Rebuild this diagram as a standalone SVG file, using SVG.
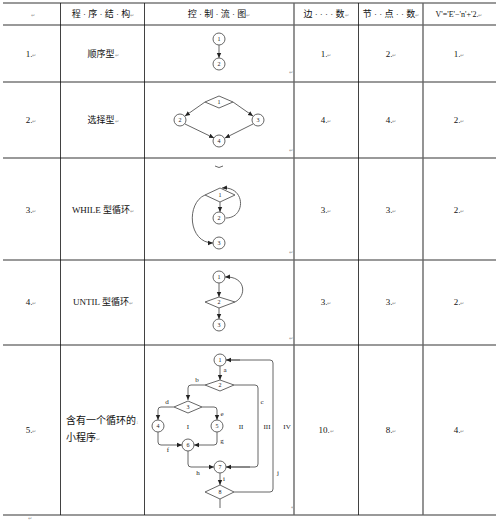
<svg xmlns="http://www.w3.org/2000/svg" width="496" height="520" viewBox="0 0 496 520">
<style>
.t{font-family:"Liberation Serif","Noto Sans CJK SC",serif;font-size:9px;fill:#111;text-anchor:middle}
.tl{font-family:"Liberation Serif","Noto Sans CJK SC",serif;font-size:10px;fill:#111}
.m{font-family:"Liberation Sans",sans-serif;font-size:5px;fill:#999}
.lb{font-family:"Liberation Serif",serif;font-size:7px;fill:#222;text-anchor:middle}
.n{font-family:"Liberation Serif",serif;font-size:6px;fill:#222;text-anchor:middle;dominant-baseline:central}
.hg{stroke:#777;stroke-width:1.5;fill:none}
.vb{stroke:#111;stroke-width:0.8;fill:none}
.vg{stroke:#666;stroke-width:1.4;fill:none}
.nd{fill:#fff;stroke:#555;stroke-width:0.9}
.e{stroke:#555;stroke-width:0.9;fill:none}
.ea{stroke:#555;stroke-width:0.9;fill:none;marker-end:url(#ar)}
</style>
<defs>
<marker id="ar" markerWidth="6" markerHeight="6" refX="5" refY="3" orient="auto" markerUnits="userSpaceOnUse">
<path d="M0,0.8 L5,3 L0,5.2 Z" fill="#222"/>
</marker>
</defs>
<rect width="496" height="520" fill="#fff"/>
<g id="table">
<line class="hg" x1="3" y1="3" x2="496" y2="3"/>
<line class="hg" x1="3" y1="25" x2="496" y2="25"/>
<line class="hg" x1="3" y1="82" x2="496" y2="82"/>
<line class="hg" x1="3" y1="158" x2="496" y2="158"/>
<line class="hg" x1="3" y1="260" x2="496" y2="260"/>
<line class="hg" x1="3" y1="345" x2="496" y2="345"/>
<line class="hg" x1="3" y1="515" x2="496" y2="515"/>
<line class="vb" x1="60.5" y1="3" x2="60.5" y2="515"/>
<line class="vb" x1="144.5" y1="3" x2="144.5" y2="515"/>
<line class="vg" x1="294" y1="3" x2="294" y2="515"/>
<line class="vb" x1="358.5" y1="3" x2="358.5" y2="515"/>
<line class="vg" x1="423" y1="3" x2="423" y2="515"/>
</g>
<g id="header">
<text class="m" x="31" y="17">↵</text>
<text class="t" x="103" y="17">程 · 序 · 结 · 构<tspan class="m">↵</tspan></text>
<text class="t" x="219" y="17">控 · 制 · 流 · 图<tspan class="m">↵</tspan></text>
<text class="t" x="326" y="17">边 · · · · 数<tspan class="m">↵</tspan></text>
<text class="t" x="391" y="17">节 · · 点 · · 数<tspan class="m">↵</tspan></text>
<text class="t" x="459" y="17" style="font-size:8px">V'='E'−'n'+'2.<tspan class="m">↵</tspan></text>
</g>
<g id="row-labels">
<text class="t" x="31" y="57">1.<tspan class="m">↵</tspan></text>
<text class="t" x="103" y="57">顺序型<tspan class="m">↵</tspan></text>
<text class="t" x="326" y="57">1.<tspan class="m">↵</tspan></text>
<text class="t" x="391" y="57">2.<tspan class="m">↵</tspan></text>
<text class="t" x="459" y="57">1.<tspan class="m">↵</tspan></text>
<text class="t" x="31" y="123">2.<tspan class="m">↵</tspan></text>
<text class="t" x="103" y="123">选择型<tspan class="m">↵</tspan></text>
<text class="t" x="326" y="123">4.<tspan class="m">↵</tspan></text>
<text class="t" x="391" y="123">4.<tspan class="m">↵</tspan></text>
<text class="t" x="459" y="123">2.<tspan class="m">↵</tspan></text>
<text class="t" x="31" y="213">3.<tspan class="m">↵</tspan></text>
<text class="t" x="103" y="213">WHILE 型循环<tspan class="m">↵</tspan></text>
<text class="t" x="326" y="213">3.<tspan class="m">↵</tspan></text>
<text class="t" x="391" y="213">3.<tspan class="m">↵</tspan></text>
<text class="t" x="459" y="213">2.<tspan class="m">↵</tspan></text>
<text class="t" x="31" y="305">4.<tspan class="m">↵</tspan></text>
<text class="t" x="103" y="305">UNTIL 型循环<tspan class="m">↵</tspan></text>
<text class="t" x="326" y="305">3.<tspan class="m">↵</tspan></text>
<text class="t" x="391" y="305">3.<tspan class="m">↵</tspan></text>
<text class="t" x="459" y="305">2.<tspan class="m">↵</tspan></text>
<text class="t" x="31" y="433">5.<tspan class="m">↵</tspan></text>
<text class="tl" x="66" y="424">含有一个循环的<tspan class="m">↓</tspan></text>
<text class="tl" x="66" y="441">小程序<tspan class="m">↵</tspan></text>
<text class="t" x="326" y="433">10.<tspan class="m">↵</tspan></text>
<text class="t" x="391" y="433">8.<tspan class="m">↵</tspan></text>
<text class="t" x="459" y="433">4.<tspan class="m">↵</tspan></text>
<text class="m" x="289" y="74">↵</text>
<text class="m" x="289" y="152">↵</text>
<text class="m" x="289" y="254">↵</text>
<text class="m" x="289" y="340">↵</text>
<text class="m" x="291" y="509">↵</text>
<text class="m" x="28" y="520">↵</text>
</g>
<g id="connectors">
<line class="ea" x1="219" y1="45" x2="219" y2="58"/>
<line class="ea" x1="205" y1="102" x2="185" y2="116"/>
<line class="ea" x1="233" y1="102" x2="253" y2="116"/>
<line class="ea" x1="185" y1="124" x2="214" y2="138"/>
<line class="ea" x1="253" y1="124" x2="225" y2="138"/>
<path class="e" d="M215,166 Q219,169 223,166"/>
<line class="ea" x1="220" y1="202" x2="220" y2="212"/>
<path class="ea" d="M226,218 C246,218 246,186 222,188"/>
<path class="ea" d="M205,195 C186,203 188,243 213,243"/>
<line class="ea" x1="219" y1="283" x2="219" y2="297"/>
<line class="ea" x1="219" y1="308" x2="219" y2="319"/>
<path class="ea" d="M235,302 C247,296 246,276 225,277"/>
<line class="ea" x1="220" y1="366" x2="220" y2="380"/>
<path class="ea" d="M205,385 L191,385 Q188,385 188,388 L188,400"/>
<path class="e" d="M234,385 L255,385 Q258,385 258,388 L258,464 Q258,467 255,467 L226,467"/>
<path class="ea" d="M250,467 L226,467"/>
<path class="ea" d="M174,407 L161,407 Q158,407 158,410 L158,420"/>
<path class="ea" d="M202,407 L214,407 Q217,407 217,410 L217,420"/>
<path class="ea" d="M158,432 L158,442 Q158,445 161,445 L182,445"/>
<path class="ea" d="M217,432 L217,442 Q217,445 214,445 L194,445"/>
<path class="ea" d="M188,451 L188,464 Q188,467 191,467 L214,467"/>
<line class="ea" x1="220" y1="473" x2="220" y2="485"/>
<path class="e" d="M234,492 L270,492 Q273,492 273,489 L273,363 Q273,360 270,360 L226,360"/>
<path class="ea" d="M240,360 L226,360"/>
<line class="e" x1="220" y1="499" x2="220" y2="508"/>
</g>
<g id="nodes">
<g id="r1n1"><circle class="nd" cx="219" cy="39" r="6"/><text class="n" x="219" y="39">1</text></g>
<g id="r1n2"><circle class="nd" cx="219" cy="64" r="6"/><text class="n" x="219" y="64">2</text></g>
<g id="r2n1"><polygon class="nd" points="205,102 219,96 233,102 219,108"/><text class="n" x="219" y="102">1</text></g>
<g id="r2n2"><circle class="nd" cx="180" cy="120" r="6"/><text class="n" x="180" y="120">2</text></g>
<g id="r2n3"><circle class="nd" cx="258" cy="120" r="6"/><text class="n" x="258" y="120">3</text></g>
<g id="r2n4"><circle class="nd" cx="219" cy="141" r="6"/><text class="n" x="219" y="141">4</text></g>
<g id="r3n1"><polygon class="nd" points="205,195 220,188 235,195 220,202"/><text class="n" x="220" y="195">1</text></g>
<g id="r3n2"><circle class="nd" cx="219" cy="218" r="6"/><text class="n" x="219" y="218">2</text></g>
<g id="r3n3"><circle class="nd" cx="219" cy="243" r="6"/><text class="n" x="219" y="243">3</text></g>
<g id="r4n1"><circle class="nd" cx="219" cy="277" r="6"/><text class="n" x="219" y="277">1</text></g>
<g id="r4n2"><polygon class="nd" points="205,302 219,297 235,302 219,308"/><text class="n" x="219" y="302">2</text></g>
<g id="r4n3"><circle class="nd" cx="219" cy="325" r="6"/><text class="n" x="219" y="325">3</text></g>
<g id="r5n1"><circle class="nd" cx="220" cy="360" r="6"/><text class="n" x="220" y="360">1</text></g>
<g id="r5n2"><polygon class="nd" points="205,385 220,380 234,385 220,391"/><text class="n" x="220" y="385">2</text></g>
<g id="r5n3"><polygon class="nd" points="174,407 188,401 202,407 188,413"/><text class="n" x="188" y="407">3</text></g>
<g id="r5n4"><circle class="nd" cx="158" cy="426" r="6"/><text class="n" x="158" y="426">4</text></g>
<g id="r5n5"><circle class="nd" cx="217" cy="426" r="6"/><text class="n" x="217" y="426">5</text></g>
<g id="r5n6"><circle class="nd" cx="188" cy="445" r="6"/><text class="n" x="188" y="445">6</text></g>
<g id="r5n7"><circle class="nd" cx="220" cy="467" r="6"/><text class="n" x="220" y="467">7</text></g>
<g id="r5n8"><polygon class="nd" points="205,492 220,485 234,492 220,499"/><text class="n" x="220" y="492">8</text></g>
</g>
<g id="edge-labels">
<text class="lb" x="225" y="372">a</text>
<text class="lb" x="197" y="382">b</text>
<text class="lb" x="262" y="404">c</text>
<text class="lb" x="167" y="404">d</text>
<text class="lb" x="222" y="416">e</text>
<text class="lb" x="168" y="452">f</text>
<text class="lb" x="222" y="443">g</text>
<text class="lb" x="198" y="475">h</text>
<text class="lb" x="224" y="481">i</text>
<text class="lb" x="278" y="475">j</text>
<text class="lb" x="188" y="429">I</text>
<text class="lb" x="241" y="429">II</text>
<text class="lb" x="267" y="429">III</text>
<text class="lb" x="287" y="429">IV</text>
</g>
</svg>
